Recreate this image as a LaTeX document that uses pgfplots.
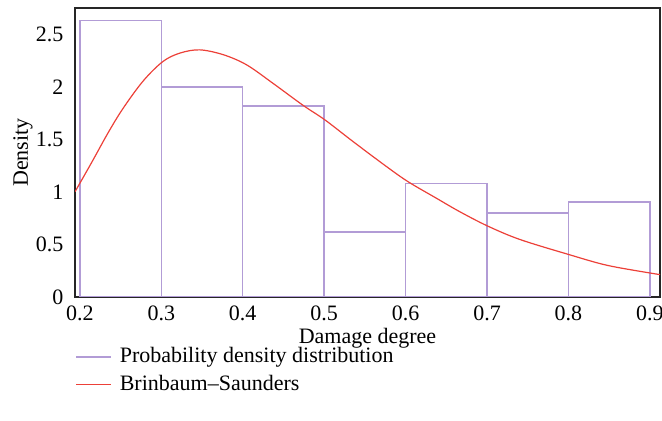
\documentclass[border=0pt]{standalone}
\usepackage{fontspec}
\setmainfont{Liberation Serif}
\usepackage{pgfplots}
\pgfplotsset{compat=1.18}
\definecolor{barc}{RGB}{178,156,214}
\definecolor{curvec}{RGB}{236,64,56}
\begin{document}
\fontsize{11}{13}\selectfont
\begin{tikzpicture}
\useasboundingbox (0,0) rectangle (331pt,210.5pt);
\begin{axis}[
  at={(37.5pt,62pt)}, anchor=south west,
  scale only axis, width=292.5pt, height=144.5pt,
  xmin=0.194, xmax=0.9125, ymin=0, ymax=2.755,
  xtick={0.2,0.3,0.4,0.5,0.6,0.7,0.8,0.9},
  ytick={0,0.5,1,1.5,2,2.5},
  major tick length=0pt,
  axis line style={black!85, line width=0.6pt},
  /pgf/number format/assume math mode=true,
  tick label style={font=\fontsize{11}{13}\selectfont},
  yticklabel style={xshift=-2pt},
  xticklabel style={yshift=-0.5pt},
  xlabel={Damage degree}, ylabel={Density},
  xlabel style={at={(axis description cs:0.5,-0.081)}, anchor=north},
  ylabel style={at={(axis description cs:-0.089,0.5)}, anchor=center},
  label style={font=\fontsize{11}{13}\selectfont},
  legend style={at={(axis description cs:0,-0.16)}, anchor=north west,
    draw=none, fill=none, inner sep=0pt, row sep=0.5pt,
    font=\fontsize{11}{13}\selectfont,
    /tikz/every odd column/.style={column sep=2pt}},
  legend cell align=left,
  legend image code/.code={\draw[#1] (0pt,0pt) -- (17.5pt,0pt);},
]
\addplot[ybar interval, draw=barc, fill=none, line width=0.7pt, forget plot]
  coordinates {(0.2,2.636) (0.3,2.0) (0.4,1.82) (0.5,0.618) (0.6,1.083) (0.7,0.80) (0.8,0.907) (0.9,0.907)};
\addplot[curvec, line width=0.6pt, smooth, tension=0.55, no marks, forget plot] coordinates {
  (0.194,1.003) (0.215,1.29) (0.235,1.57) (0.2532,1.80)
  (0.2778,2.06) (0.302,2.245) (0.3229,2.325) (0.347,2.356)
  (0.376,2.31) (0.4048,2.213) (0.4375,2.035) (0.4743,1.826) (0.501,1.688)
  (0.5358,1.48) (0.5768,1.242) (0.6033,1.098) (0.6382,0.94) (0.6668,0.812)
  (0.7012,0.675) (0.7405,0.548) (0.8004,0.405) (0.847,0.303) (0.900,0.229)
  (0.9125,0.214)};
\addlegendimage{draw=barc, line width=0.7pt}
\addlegendentry{Probability density distribution}
\addlegendimage{draw=curvec, line width=0.7pt}
\addlegendentry{Brinbaum--Saunders}
\end{axis}
\end{tikzpicture}
\end{document}
